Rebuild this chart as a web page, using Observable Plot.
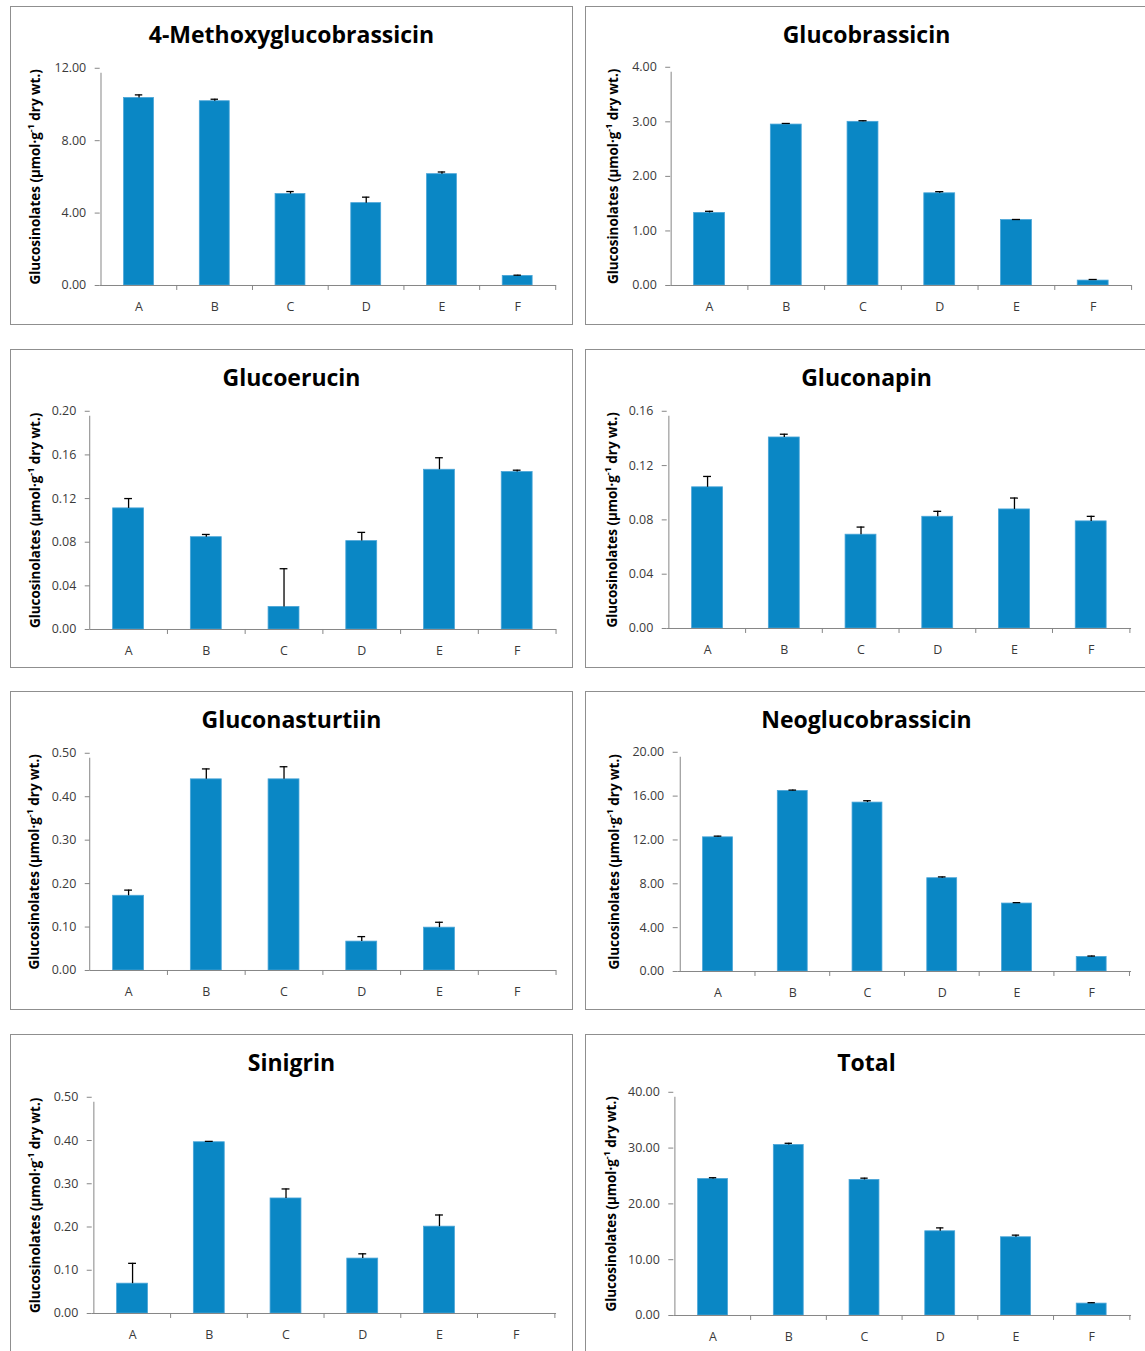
<!DOCTYPE html>
<html><head><meta charset="utf-8">
<script src="https://cdn.jsdelivr.net/npm/d3@7"></script>
<script src="https://cdn.jsdelivr.net/npm/@observablehq/plot@0.6"></script>
<style>
html,body{margin:0;padding:0;background:#fff;}
body{width:1145px;height:1351px;overflow:hidden;position:relative;font-family:"Open Sans",sans-serif;}
.panel{position:absolute;width:563px;height:319px;border:1px solid #8f8f8f;box-sizing:border-box;background:#fff;}
.panel .title{position:absolute;left:-1px;width:563px;text-align:center;font-weight:700;font-size:23px;line-height:23px;top:16px;color:#000;white-space:nowrap;}
.panel svg{position:absolute;left:-1px;top:-1px;}
</style></head><body>
<script>
const categories = ["A", "B", "C", "D", "E", "F"];
const yTitleMain = "Glucosinolates (µmol·g";
const yTitleSup = "-1";
const yTitleEnd = " dry wt.)";

const methoxyValues = [10.36, 10.18, 5.05, 4.55, 6.15, 0.53];
const methoxyErrors = [0.17, 0.11, 0.14, 0.33, 0.12, 0.04];
const methoxyTicks = [0, 4, 8, 12];

const glucobrassicinValues = [1.33, 2.95, 3.00, 1.69, 1.20, 0.09];
const glucobrassicinErrors = [0.03, 0.02, 0.02, 0.03, 0.01, 0.02];
const glucobrassicinTicks = [0, 1, 2, 3, 4];

const glucoerucinValues = [0.111, 0.0846, 0.0207, 0.081, 0.1464, 0.1443];
const glucoerucinErrors = [0.009, 0.0025, 0.035, 0.008, 0.011, 0.0017];
const glucoerucinTicks = [0, 0.04, 0.08, 0.12, 0.16, 0.20];

const gluconapinValues = [0.104, 0.1407, 0.0691, 0.0823, 0.0877, 0.0789];
const gluconapinErrors = [0.008, 0.0024, 0.0056, 0.004, 0.0084, 0.0037];
const gluconapinTicks = [0, 0.04, 0.08, 0.12, 0.16];

const gluconasturtiinValues = [0.172, 0.440, 0.440, 0.0665, 0.0986, 0];
const gluconasturtiinErrors = [0.013, 0.024, 0.029, 0.0115, 0.0124, null];
const gluconasturtiinTicks = [0, 0.1, 0.2, 0.3, 0.4, 0.5];

const neoglucobrassicinValues = [12.24, 16.47, 15.41, 8.51, 6.20, 1.33];
const neoglucobrassicinErrors = [0.11, 0.08, 0.17, 0.12, 0.08, 0.08];
const neoglucobrassicinTicks = [0, 4, 8, 12, 16, 20];

const sinigrinValues = [0.069, 0.396, 0.266, 0.127, 0.2008, 0];
const sinigrinErrors = [0.047, 0.002, 0.022, 0.011, 0.027, null];
const sinigrinTicks = [0, 0.1, 0.2, 0.3, 0.4, 0.5];

const totalValues = [24.46, 30.55, 24.30, 15.09, 14.02, 2.13];
const totalErrors = [0.23, 0.31, 0.31, 0.61, 0.38, 0.16];
const totalTicks = [0, 10, 20, 30, 40];

const panels = [
  {title: "4-Methoxyglucobrassicin", values: methoxyValues, errors: methoxyErrors, ticks: methoxyTicks, left: 10, top: 6, mL: 90, mT: 62, mB: 39, lab: 28},
  {title: "Glucobrassicin", values: glucobrassicinValues, errors: glucobrassicinErrors, ticks: glucobrassicinTicks, left: 585, top: 6, mL: 85.5, mT: 61, mB: 39, lab: 31},
  {title: "Glucoerucin", values: glucoerucinValues, errors: glucoerucinErrors, ticks: glucoerucinTicks, left: 10, top: 349, mL: 80, mT: 62, mB: 38, lab: 28},
  {title: "Gluconapin", values: gluconapinValues, errors: gluconapinErrors, ticks: gluconapinTicks, left: 585, top: 349, mL: 82, mT: 62, mB: 39, lab: 30},
  {title: "Gluconasturtiin", values: gluconasturtiinValues, errors: gluconasturtiinErrors, ticks: gluconasturtiinTicks, left: 10, top: 691, mL: 80, mT: 62, mB: 39, lab: 27},
  {title: "Neoglucobrassicin", values: neoglucobrassicinValues, errors: neoglucobrassicinErrors, ticks: neoglucobrassicinTicks, left: 585, top: 691, mL: 93, mT: 61, mB: 38, lab: 32},
  {title: "Sinigrin", values: sinigrinValues, errors: sinigrinErrors, ticks: sinigrinTicks, left: 10, top: 1034, mL: 82, mT: 63, mB: 39, lab: 28},
  {title: "Total", values: totalValues, errors: totalErrors, ticks: totalTicks, left: 585, top: 1034, mL: 88.6, mT: 58, mB: 37, lab: 29}
];

const W = 563, H = 319, mR = 15;
const barPad = 0.6, capW = 8;
const axisColor = "#868686", textColor = "#3a3a3a";
const labelFont = 13.5;

for (const p of panels) {
  const rows = categories.map((c, i) => ({cat: c, value: p.values[i], err: p.errors[i]}));
  const errRows = rows.filter(d => d.err != null && d.err > 0);
  const step = (W - p.mL - mR) / categories.length;
  const bw = step * (1 - barPad);
  const ymax = p.ticks[p.ticks.length - 1];

  const div = document.createElement("div");
  div.className = "panel";
  div.style.left = p.left + "px";
  div.style.top = p.top + "px";
  const t = document.createElement("div");
  t.className = "title";
  t.textContent = p.title;
  div.appendChild(t);

  const chart = Plot.plot({
    width: W, height: H,
    marginLeft: p.mL, marginRight: mR, marginTop: p.mT, marginBottom: p.mB,
    style: {fontFamily: "'Open Sans', sans-serif", fontSize: "12.5px", background: "transparent", overflow: "visible"},
    x: {type: "band", domain: categories, paddingInner: barPad, paddingOuter: barPad / 2},
    y: {domain: [0, ymax]},
    marks: [
      Plot.barY(rows, {x: "cat", y: "value", fill: "#0a87c5", stroke: "#4aa5d8", strokeWidth: 0.8}),
      Plot.ruleX(errRows, {x: "cat", y1: "value", y2: d => d.value + d.err, stroke: "#000", strokeWidth: 1.3}),
      Plot.tickY(errRows, {x: "cat", y: d => d.value + d.err, stroke: "#000", strokeWidth: 1.3, inset: (bw - capW) / 2}),
      Plot.ruleY([0], {stroke: axisColor}),
      Plot.ruleX([categories[0]], {x: d => d, dx: -step / 2, y1: 0, y2: ymax, insetBottom: -5, stroke: axisColor}),
      Plot.ruleX(categories.slice(1), {x: d => d, dx: -step / 2, y1: 0, y2: 0, insetBottom: -5, stroke: axisColor}),
      Plot.ruleX([categories[categories.length - 1]], {x: d => d, dx: step / 2, y1: 0, y2: 0, insetBottom: -5, stroke: axisColor}),
      Plot.axisY({ticks: p.ticks, tickFormat: d3.format(".2f"), tickSize: 5, tickPadding: 9, stroke: axisColor, fill: textColor,
                  label: yTitleMain + yTitleSup + yTitleEnd, labelAnchor: "center", labelArrow: "none", labelOffset: p.mL - p.lab + 8}),
      Plot.axisX({tickSize: 0, tickPadding: 17, fill: textColor, label: null})
    ]
  });
  div.appendChild(chart);
  document.body.appendChild(div);

  const lab = chart.querySelector('g[aria-label="y-axis label"] text');
  if (lab) {
    lab.textContent = "";
    lab.setAttribute("font-weight", "bold");
    lab.setAttribute("font-size", labelFont);
    lab.setAttribute("fill", "#000");
    const ns = "http://www.w3.org/2000/svg";
    const a = document.createElementNS(ns, "tspan"); a.textContent = yTitleMain;
    const b = document.createElementNS(ns, "tspan"); b.textContent = yTitleSup;
    b.setAttribute("baseline-shift", "super"); b.setAttribute("font-size", "9");
    const c = document.createElementNS(ns, "tspan"); c.textContent = yTitleEnd;
    lab.append(a, b, c);
  }
}
</script>
</body></html>
